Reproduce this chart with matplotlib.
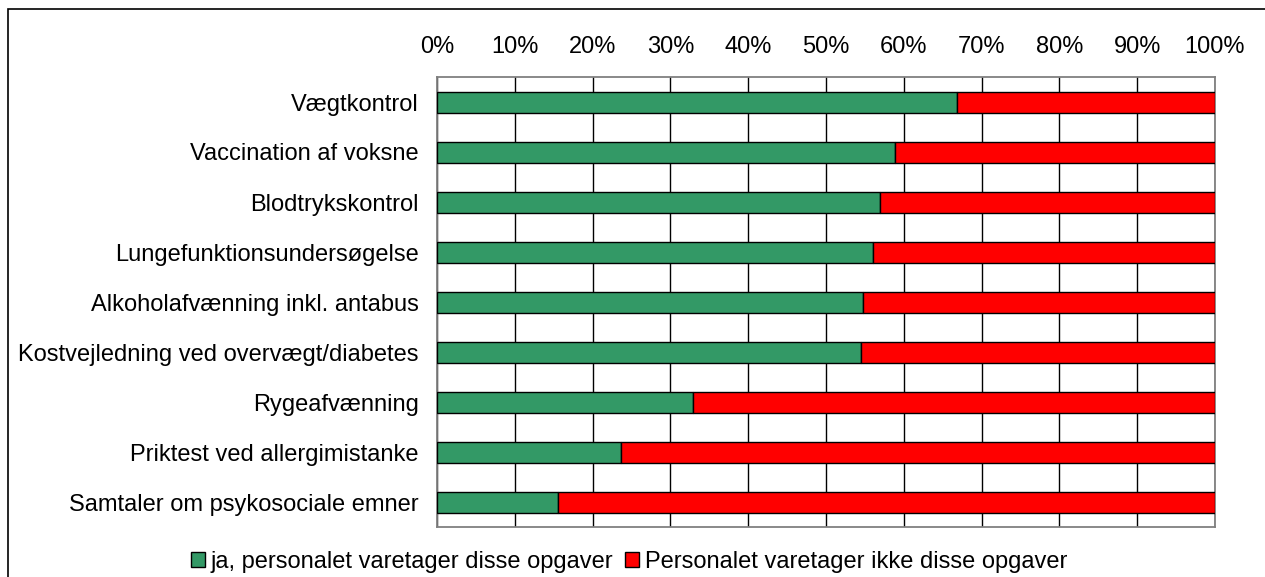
#!/usr/bin/env python3
"""
Opgaver varetaget af personalet - 100% stacked bars.
"""

import matplotlib.pyplot as plt
from matplotlib.patches import Rectangle
from matplotlib.ticker import PercentFormatter

plt.rcParams['font.family'] = ['Liberation Sans', 'DejaVu Sans']

# categories top to bottom
categories = [
    'Vægtkontrol',
    'Vaccination af voksne',
    'Blodtrykskontrol',
    'Lungefunktionsundersøgelse',
    'Alkoholafvænning inkl. antabus',
    'Kostvejledning ved overvægt/diabetes',
    'Rygeafvænning',
    'Priktest ved allergimistanke',
    'Samtaler om psykosociale emner',
]
ja_pct = [66.8, 58.9, 57.0, 56.0, 54.7, 54.5, 32.9, 23.7, 15.5]
ikke_pct = [100 - v for v in ja_pct]

series_labels = ['ja, personalet varetager disse opgaver',
                 'Personalet varetager ikke disse opgaver']
GREEN = '#339966'
RED = '#FF0000'
FS = 17

W, H = 1265, 577
fig = plt.figure(figsize=(W / 100, H / 100), dpi=100)
ax = fig.add_axes([437 / W, 1 - 527 / H, (1215 - 437) / W, (527 - 77) / H])

# outer chart frame (right/bottom run off the picture)
fig.patches.append(Rectangle((8 / W, -0.1), 1.2, 1 - 9 / H + 0.1,
                             transform=fig.transFigure, fill=False,
                             edgecolor='black', linewidth=1.2))

y = list(range(len(categories)))
bar_h = 0.42
ax.barh(y, ja_pct, height=bar_h, color=GREEN, edgecolor='black',
        linewidth=1.0, label=series_labels[0], zorder=3)
ax.barh(y, ikke_pct, left=ja_pct, height=bar_h, color=RED, edgecolor='black',
        linewidth=1.0, label=series_labels[1], zorder=3)

ax.set_xlim(0, 100)
ax.set_ylim(len(categories) - 0.5, -0.5)
ax.set_xticks(range(0, 101, 10))
ax.xaxis.set_major_formatter(PercentFormatter(decimals=0))
ax.xaxis.tick_top()
ax.set_yticks(y)
ax.set_yticklabels(categories)
ax.tick_params(axis='x', length=0, pad=14, labelsize=FS)
ax.tick_params(axis='y', length=0, pad=13, labelsize=FS)
ax.grid(axis='x', color='black', linewidth=1.0, zorder=0)
ax.set_axisbelow(True)
for s in ax.spines.values():
    s.set_color('#808080')
    s.set_linewidth(1.3)

fig.legend(loc='center', bbox_to_anchor=(629 / W, 1 - 562 / H), ncol=2,
           frameon=False, fontsize=FS, handlelength=0.6, handleheight=0.6,
           handletextpad=0.25, columnspacing=0.5, borderaxespad=0)

fig.savefig('out.png', dpi=100, facecolor='white')
